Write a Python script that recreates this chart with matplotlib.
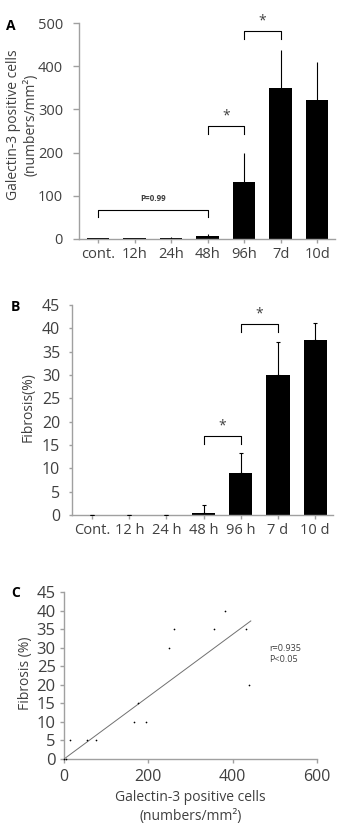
import matplotlib
matplotlib.use("Agg")
import matplotlib.pyplot as plt
import numpy as np

plt.rcParams['font.family'] = ['Open Sans', 'DejaVu Sans']

# ---- data ----
cats_a = ["cont.", "12h", "24h", "48h", "96h", "7d", "10d"]
gal_vals = [2, 2, 3, 8, 131, 349, 321]
gal_err = [1, 1, 1, 4, 67, 89, 88]

cats_b = ["Cont.", "12 h", "24 h", "48 h", "96 h", "7 d", "10 d"]
fib_vals = [0, 0, 0, 0.5, 9, 30, 37.5]
fib_err = [0, 0, 0, 1.7, 4.3, 7.1, 3.7]

scat_x = [0, 5, 15, 55, 75, 165, 175, 195, 250, 260, 356, 383, 432, 438]
scat_y = [0, 0, 5, 5, 5, 10, 15, 10, 30, 35, 35, 40, 35, 20]
fit_x = [0, 443]
fit_y = [0, 37.2]

# brackets: (start idx, end idx, height, leg drop, label)
brackets_a = [(0, 3, 68, 17, "P=0.99"), (3, 4, 262, 20, "*"), (4, 5, 482, 19, "*")]
brackets_b = [(3, 4, 16.9, 1.7, "*"), (4, 5, 40.9, 1.6, "*")]

TXT = "#404040"
SP = "#a0a0a0"
TS = 10.5   # x tick label size
LS = 10.0   # axis label size

fig = plt.figure(figsize=(3.42, 8.30), dpi=100)


def style(ax):
    for s in ["top", "right"]:
        ax.spines[s].set_visible(False)
    for s in ["left", "bottom"]:
        ax.spines[s].set_color(SP)
        ax.spines[s].set_linewidth(1.0)
    ax.tick_params(colors=SP, labelcolor=TXT, labelsize=TS, length=3, width=1, pad=3)


def bar_panel(ax, cats, vals, errs, ylim, yticks, brackets, ylabel, capsize):
    x = np.arange(len(cats))
    ax.bar(x, vals, width=0.62, color="black", zorder=2)
    ax.errorbar(x, vals, yerr=[np.zeros(len(errs)), errs], fmt="none",
                ecolor="black", elinewidth=0.8, capsize=capsize, capthick=0.8, zorder=3)
    ax.set_ylim(*ylim)
    ax.set_yticks(yticks)
    ax.set_xticks(x)
    ax.set_xticklabels(cats)
    style(ax)
    ax.set_ylabel(ylabel, color=TXT, fontsize=LS, linespacing=1.15)
    for i, j, h, d, lab in brackets:
        ax.plot([i, i, j, j], [h - d, h, h, h - d], color="black", lw=0.8, zorder=4,
                clip_on=False)
        if lab == "*":
            ax.text((i + j) / 2, h + (ylim[1] - ylim[0]) * 0.012, lab, ha="center",
                    va="bottom", fontsize=10, color=TXT, clip_on=False)
        else:
            ax.text((i + j) / 2, h + (ylim[1] - ylim[0]) * 0.03, lab, ha="center",
                    va="bottom", fontsize=5.8, color=TXT, fontweight="bold")


# Panel A
axA = fig.add_axes([79 / 342, 1 - 239 / 830, 256 / 342, 216 / 830])
bar_panel(axA, cats_a, gal_vals, gal_err, (0, 500), [0, 100, 200, 300, 400, 500],
          brackets_a, "Galectin-3 positive cells\n(numbers/mm²)", 0)
axA.set_xlim(-0.52, 6.49)
axA.tick_params(axis="y", length=4.5, pad=7, labelsize=10.5)
axA.yaxis.set_label_coords(-0.16, 0.53)
fig.text(6 / 342, 1 - 26 / 830, "A", fontsize=10, fontweight="bold", color="black",
         va="center", ha="left")

# Panel B
axB = fig.add_axes([72 / 342, 1 - 515 / 830, 261 / 342, 210 / 830])
bar_panel(axB, cats_b, fib_vals, fib_err, (0, 45), list(range(0, 46, 5)),
          brackets_b, "Fibrosis(%)", 1.5)
axB.set_xlim(-0.54, 6.48)
axB.tick_params(axis="y", length=2.5, pad=6, labelsize=11.5)
axB.yaxis.set_label_coords(-0.14, 0.514)
fig.text(11 / 342, 1 - 307 / 830, "B", fontsize=10, fontweight="bold", color="black",
         va="center", ha="left")

# Panel C
axC = fig.add_axes([64 / 342, 1 - 759 / 830, 253 / 342, 167 / 830])
axC.scatter(scat_x, scat_y, s=1.5, color="black", zorder=3, clip_on=False, linewidths=0)
axC.plot(fit_x, fit_y, color="#707070", lw=0.7, zorder=2)
axC.set_xlim(0, 600)
axC.set_ylim(0, 45)
axC.set_xticks([0, 200, 400, 600])
axC.set_yticks(list(range(0, 46, 5)))
style(axC)
axC.tick_params(axis="x", labelsize=11.5, pad=4)
axC.tick_params(axis="y", length=3, pad=3, labelsize=12)
axC.set_xlabel("Galectin-3 positive cells\n(numbers/mm²)", color=TXT, fontsize=LS,
               linespacing=1.3)
axC.set_ylabel("Fibrosis (%)", color=TXT, fontsize=LS)
axC.yaxis.set_label_coords(-0.123, 0.515)
axC.text(486, 28.2, "r=0.935\nP<0.05", fontsize=6.5, color=TXT, va="center", ha="left",
         linespacing=1.3)
fig.text(11 / 342, 1 - 593 / 830, "C", fontsize=10, fontweight="bold", color="black",
         va="center", ha="left")

fig.savefig("out.png", dpi=100, facecolor="white")
